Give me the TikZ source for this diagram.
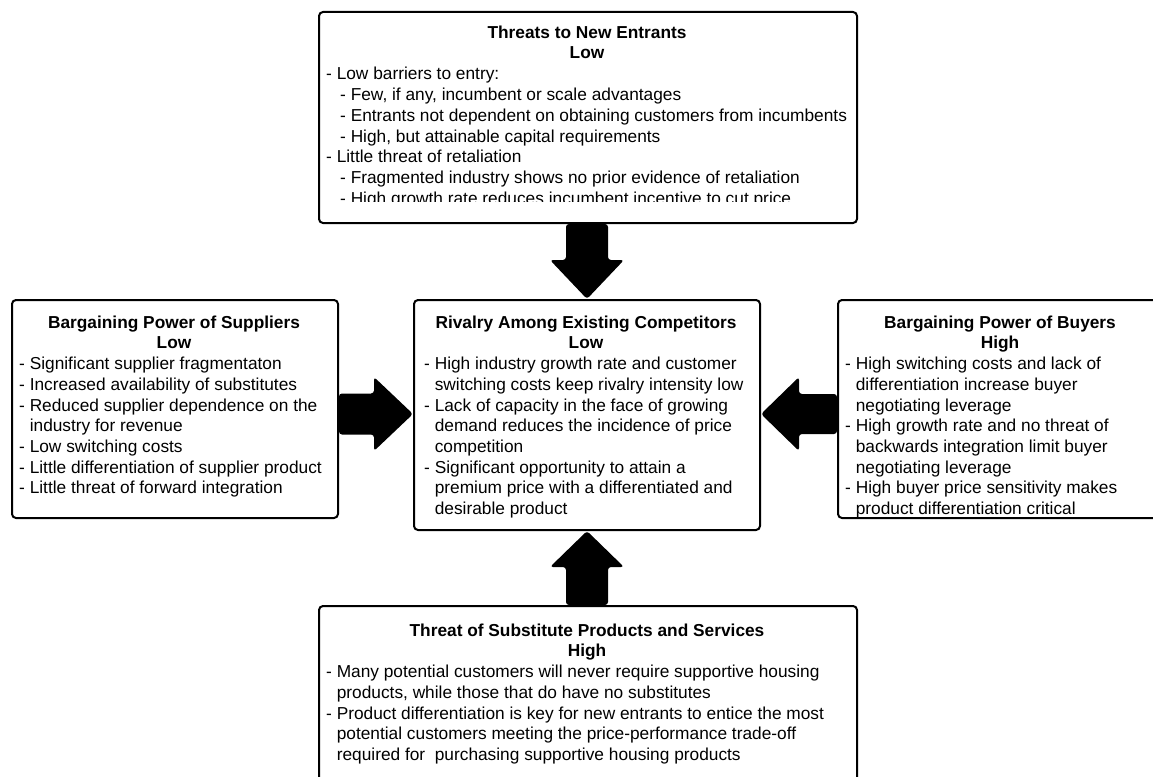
\documentclass[tikz,border=0pt]{standalone}
\usepackage{fontspec}
\setmainfont{Liberation Sans}
\usetikzlibrary{calc}
\newcommand\li{\hspace*{10.6pt}}
\newcommand\si{\hspace*{14pt}}
\begin{document}
\begin{tikzpicture}[x=1pt,y=-1pt,
  box/.style={draw=black, line width=2pt, rounded corners=4pt, inner sep=0pt, anchor=north west},
  ttl/.style={font=\fontsize{17.3}{20.6}\selectfont\bfseries, align=center, inner sep=0pt, anchor=north},
  bdy/.style={font=\fontsize{17.3}{20.7}\selectfont, align=left, inner sep=0pt, anchor=north west},
  blk/.style={fill=black, rounded corners=3pt}]
\useasboundingbox (0,0) rectangle (1153,776);
\fill[white] (0,0) rectangle (1153,776);
\clip (0,0) rectangle (1153,776);

% boxes
\node[box, minimum width=538pt, minimum height=211pt] (top) at (318,11) {};
\node[box, minimum width=326pt, minimum height=218pt] (left) at (11,299) {};
\node[box, minimum width=346pt, minimum height=230pt] (ctr) at (413,299) {};
\node[box, minimum width=326pt, minimum height=218pt] (right) at (837,299) {};
\node[box, minimum width=538pt, minimum height=190pt] (bot) at (318,605) {};
\coordinate (ay) at (0,414);

% top box text
\node[ttl] (topT) at (587,25.4) {Threats to New Entrants\\Low};
\begin{scope}
\clip (318,11) rectangle (856,201.5);
\node[bdy] (topB) at (326,67.2) {- Low barriers to entry:\\
\si- Few, if any, incumbent or scale advantages\\
\si- Entrants not dependent on obtaining customers from incumbents\\
\si- High, but attainable capital requirements\\
- Little threat of retaliation\\
\si- Fragmented industry shows no prior evidence of retaliation\\
\si- High growth rate reduces incumbent incentive to cut price};
\end{scope}

% left box text
\node[ttl] (leftT) at (174,315.4) {Bargaining Power of Suppliers\\Low};
\node[bdy] (leftB) at (19,357) {- Significant supplier fragmentaton\\
- Increased availability of substitutes\\
- Reduced supplier dependence on the\\
\li industry for revenue\\
- Low switching costs\\
- Little differentiation of supplier product\\
- Little threat of forward integration};

% center box text
\node[ttl] (ctrT) at (586,315.4) {Rivalry Among Existing Competitors\\Low};
\node[bdy] (ctrB) at (424,357) {- High industry growth rate and customer\\
\li switching costs keep rivalry intensity low\\
- Lack of capacity in the face of growing\\
\li demand reduces the incidence of price\\
\li competition\\
- Significant opportunity to attain a\\
\li premium price with a differentiated and\\
\li desirable product};

% right box text
\node[ttl] (rightT) at (1000,315.4) {Bargaining Power of Buyers\\High};
\node[bdy] (rightB) at (845,357) {- High switching costs and lack of\\
\li differentiation increase buyer\\
\li negotiating leverage\\
- High growth rate and no threat of\\
\li backwards integration limit buyer\\
\li negotiating leverage\\
- High buyer price sensitivity makes\\
\li product differentiation critical};

% bottom box text
\node[ttl] (botT) at (587,623.4) {Threat of Substitute Products and Services\\High};
\node[bdy] (botB) at (326,665) {- Many potential customers will never require supportive housing\\
\li products, while those that do have no substitutes\\
- Product differentiation is key for new entrants to entice the most\\
\li potential customers meeting the price-performance trade-off\\
\li required for~ purchasing supportive housing products};

% block arrows
\fill[blk] let \p1=(ctr.north), \p2=(top.south) in
  (\x1-21pt,\y2) -- (\x1-21pt,\y1+39pt) -- (\x1-37pt,\y1+39pt) -- (\x1,\y1)
  -- (\x1+37pt,\y1+39pt) -- (\x1+21pt,\y1+39pt) -- (\x1+21pt,\y2) -- cycle;
\fill[blk] let \p1=(ctr.south), \p2=(bot.north) in
  (\x1-21pt,\y2) -- (\x1-21pt,\y1-36pt) -- (\x1-37pt,\y1-36pt) -- (\x1,\y1)
  -- (\x1+37pt,\y1-36pt) -- (\x1+21pt,\y1-36pt) -- (\x1+21pt,\y2) -- cycle;
\fill[blk] let \p1=(ctr.west |- ay), \p2=(left.east |- ay) in
  (\x2,\y1+20.5pt) -- (\x1-39pt,\y1+20.5pt) -- (\x1-39pt,\y1+37pt) -- (\x1,\y1)
  -- (\x1-39pt,\y1-37pt) -- (\x1-39pt,\y1-20.5pt) -- (\x2,\y1-20.5pt) -- cycle;
\fill[blk] let \p1=(ctr.east |- ay), \p2=(right.west |- ay) in
  (\x2,\y1+20pt) -- (\x1+38pt,\y1+20pt) -- (\x1+38pt,\y1+37pt) -- (\x1,\y1)
  -- (\x1+38pt,\y1-37pt) -- (\x1+38pt,\y1-20pt) -- (\x2,\y1-20pt) -- cycle;
\end{tikzpicture}
\end{document}
